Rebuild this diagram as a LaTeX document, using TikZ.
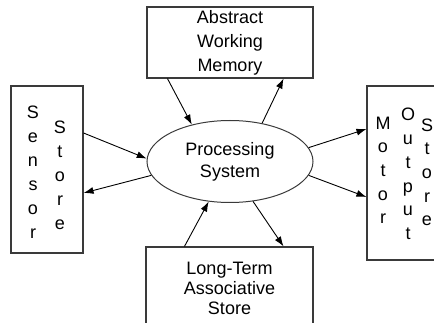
\documentclass[tikz,border=0pt]{standalone}
\usepackage{fontspec}
\setmainfont{Liberation Sans}
\usepackage{tikz}
\usetikzlibrary{arrows.meta,shapes.geometric}
\definecolor{boxgray}{HTML}{3A3A3A}
\tikzset{
  storeBox/.style={%
    draw=boxgray,
    rectangle,
    line width=1.1pt,
    inner sep=0pt,
    align=center,
    font=\fontsize{18}{24}\selectfont},
  processEllipse/.style={%
    draw=boxgray,
    ellipse,
    line width=1pt,
    inner sep=0pt,
    align=center,
    minimum width=166pt,
    minimum height=82pt,
    font=\fontsize{18}{22}\selectfont},
  letterColumn/.style={%
    inner sep=0pt,
    align=center,
    font=\fontsize{18}{24}\selectfont},
  flowArrow/.style={%
    -{Latex[length=10pt,width=7pt]},
    line width=0.9pt},
  }

\begin{document}
\begin{tikzpicture}[x=1pt,y=-1pt]
  \useasboundingbox (0,0) rectangle (434,323);
  \clip (0,0) rectangle (434,323);
  % stores round the processing system
  \node[storeBox,minimum width=166pt,minimum height=71pt] (working memory) at (230,42.5)
    {Abstract\\Working\\Memory};
  \node[storeBox,minimum width=72pt,minimum height=167pt] (sensor store) at (47,169.5) {};
  \node[storeBox,minimum width=103pt,minimum height=174pt] (motor store) at (418.5,173) {};
  \node[storeBox,minimum width=167pt,minimum height=82pt,
    font=\fontsize{18}{20}\selectfont] (long term) at (229.5,288)
    {Long-Term\\Associative\\Store};
  \node[processEllipse] (processing) at (230,161.5) {Processing\\System};
  % letters stacked in the side boxes
  \node[letterColumn] (sensor word) at (33,172) {S\\e\\n\\s\\o\\r};
  \node[letterColumn] (sensor store word) at (60,175) {S\\t\\o\\r\\e};
  \node[letterColumn,font=\fontsize{18}{23.7}\selectfont] (motor word) at (383,170.4) {M\\o\\t\\o\\r};
  \node[letterColumn,font=\fontsize{18}{23.7}\selectfont] (output word) at (408,174) {O\\u\\t\\p\\u\\t};
  \node[letterColumn,font=\fontsize{18}{23.7}\selectfont] (motor store word) at (427,172.4) {S\\t\\o\\r\\e};
  % flows
  \draw[flowArrow] ([xshift=21pt]working memory.south west) -- (processing.136);
  \draw[flowArrow] (processing.50) -- ([xshift=-30pt]working memory.south east);
  \draw[flowArrow] ([yshift=36.5pt]sensor store.east) -- (processing.178);
  \draw[flowArrow] (processing.190) -- ([yshift=-23.5pt]sensor store.east);
  \draw[flowArrow] (processing.10) -- ([yshift=44pt]motor store.west);
  \draw[flowArrow] (processing.-10) -- ([yshift=-24pt]motor store.west);
  \draw[flowArrow] ([xshift=39pt]long term.north west) -- (processing.-118);
  \draw[flowArrow] (processing.-60) -- ([xshift=-30pt]long term.north east);
\end{tikzpicture}
\end{document}
